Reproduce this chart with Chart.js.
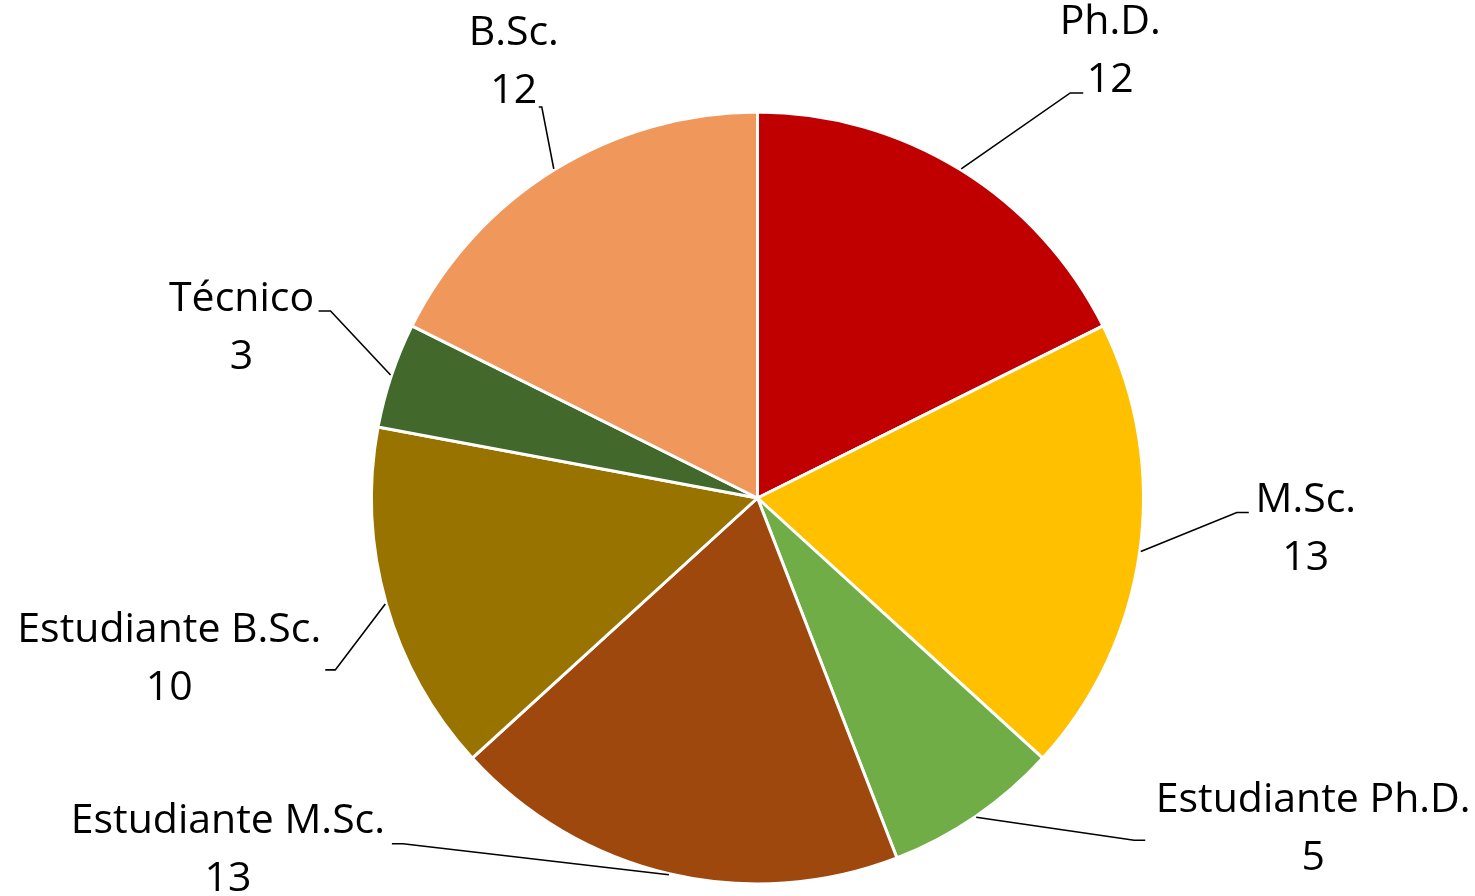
<!DOCTYPE html>
<html>
<head>
<meta charset="utf-8">
<title>Formación</title>
<script src="https://cdn.jsdelivr.net/npm/chart.js@4/dist/chart.umd.min.js"></script>
<style>
  html, body { margin: 0; padding: 0; background: #fff; }
  #wrap { width: 1475px; height: 896px; }
</style>
</head>
<body>
<div id="wrap"><canvas id="pieFormacion" width="1475" height="896"></canvas></div>
<script>
// categorias y cantidades
const categorias = ['Ph.D.', 'M.Sc.', 'Estudiante Ph.D.', 'Estudiante M.Sc.', 'Estudiante B.Sc.', 'Técnico', 'B.Sc.'];
const cantidades = [12, 13, 5, 13, 10, 3, 12];
const colores = ['#C00000', '#FFC000', '#70AD47', '#9E480E', '#997300', '#43682B', '#F0985C'];

// posicion de cada etiqueta respecto al borde de su porcion
// dx,dy: codo de la linea guia; stub: tramo horizontal; tx: centro del texto; by: linea base 1
const guias = [
  { dx: 109, dy: -76, stub: 13, tx: 40, by: -59 },
  { dx: 96, dy: -39, stub: 12, tx: 69, by: 0 },
  { dx: 158, dy: 23, stub: 11, tx: 179, by: -28 },
  { dx: -266, dy: -31, stub: -11, tx: -175, by: -11 },
  { dx: -50, dy: 66, stub: -10, tx: -166, by: -28 },
  { dx: -60, dy: -64, stub: -12, tx: -89, by: 0 },
  { dx: -12, dy: -62, stub: -3, tx: -28, by: -62 }
];

const etiquetasExternas = {
  id: 'etiquetasExternas',
  afterDatasetsDraw(chart, args, opts) {
    const ctx = chart.ctx;
    const meta = chart.getDatasetMeta(0);
    ctx.save();
    ctx.font = opts.font;
    ctx.fillStyle = '#000';
    ctx.strokeStyle = '#000';
    ctx.lineWidth = 1.6;
    ctx.textAlign = 'center';
    ctx.textBaseline = 'alphabetic';
    meta.data.forEach((arc, i) => {
      const g = guias[i];
      const mid = (arc.startAngle + arc.endAngle) / 2;
      const ex = arc.x + Math.cos(mid) * (arc.outerRadius + 1);
      const ey = arc.y + Math.sin(mid) * (arc.outerRadius + 1);
      const cx = ex + g.dx, cy = ey + g.dy;
      ctx.beginPath();
      ctx.moveTo(ex, ey);
      ctx.lineTo(cx, cy);
      ctx.lineTo(cx + g.stub, cy);
      ctx.stroke();
      const b1 = cy + g.by;
      ctx.fillText(chart.data.labels[i], cx + g.tx, b1);
      ctx.fillText(String(chart.data.datasets[0].data[i]), cx + g.tx, b1 + opts.lineGap);
    });
    ctx.restore();
  }
};

new Chart(document.getElementById('pieFormacion'), {
  type: 'pie',
  data: {
    labels: categorias,
    datasets: [{
      data: cantidades,
      backgroundColor: colores,
      borderColor: '#ffffff',
      borderWidth: 3,
      radius: 386
    }]
  },
  options: {
    responsive: false,
    animation: false,
    layout: { padding: { left: 40, right: 0, top: 100, bottom: 0 } },
    plugins: {
      legend: { display: false },
      tooltip: { enabled: false },
      etiquetasExternas: { font: '41px "Open Sans"', lineGap: 58 }
    }
  },
  plugins: [etiquetasExternas]
});
</script>
</body>
</html>
